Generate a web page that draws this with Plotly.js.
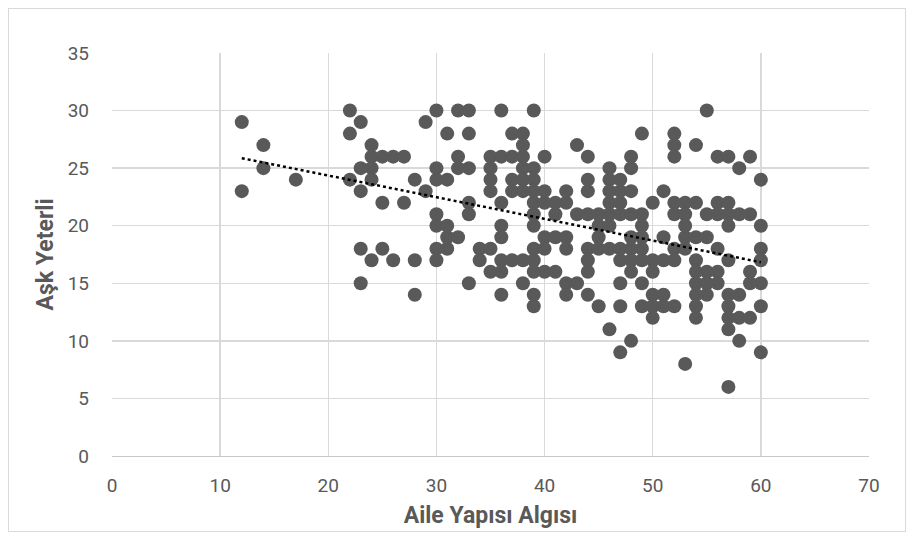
<!DOCTYPE html>
<html>
<head>
<meta charset="utf-8">
<script src="https://cdn.plot.ly/plotly-3.0.1.min.js"></script>
<style>
html,body{margin:0;padding:0;background:#fff;}
#wrap{position:relative;width:912px;height:539px;}
#chart{position:absolute;left:0;top:0;width:912px;height:539px;}
#frame{position:absolute;left:8px;top:8px;width:896px;height:522px;border:1px solid #d9d9d9;pointer-events:none;}
</style>
</head>
<body>
<div id="wrap"><div id="chart"></div><div id="frame"></div></div>
<script>
// Aile Yapısı Algısı (x) vs Aşk Yeterli (y), grouped by x value
const xValues = [12,14,17,22,23,24,25,26,27,28,29,30,31,32,33,34,35,36,37,38,39,40,41,42,43,44,45,46,47,48,49,50,51,52,53,54,55,56,57,58,59,60];
const yByX = [
  [29,23],
  [27,25],
  [24],
  [30,28,24],
  [29,25,23,18,15],
  [27,26,25,24,17],
  [26,22,18],
  [26,17],
  [26,22],
  [24,17,14],
  [29,23],
  [30,25,24,21,20,18,17],
  [28,24,20,19,18],
  [30,26,25,19],
  [30,28,25,22,21,15],
  [18,17],
  [26,25,24,23,18,16],
  [30,26,22,20,19,17,16,14],
  [28,26,24,23,17],
  [28,27,26,25,24,23,17,15],
  [30,25,24,23,22,21,20,18,17,16,14,13],
  [26,23,22,19,18,16],
  [22,21,19,16],
  [23,22,19,18,15,14],
  [27,21,15],
  [26,24,23,21,18,17,16,14],
  [21,20,19,18,13],
  [25,24,23,22,21,20,18,11],
  [24,23,22,21,18,17,15,13,9],
  [26,25,23,21,19,18,17,16,10],
  [28,21,20,19,18,17,15,13],
  [22,17,16,14,13,12],
  [23,19,17,14,13],
  [28,27,26,22,21,18,17,13],
  [22,21,20,19,18,8],
  [27,22,19,17,16,15,14,13,12],
  [30,21,19,16,15,14],
  [26,22,21,18,16,15],
  [26,22,21,20,17,14,13,12,11,6],
  [25,21,14,12,10],
  [26,21,16,15,12],
  [24,20,18,17,15,13,9]
];
const xTickLabels = ['0','10','20','30','40','50','60','70'];
const yTickLabels = ['0','5','10','15','20','25','30','35'];

const xs = [], ys = [];
xValues.forEach((xv, i) => yByX[i].forEach(yv => { xs.push(xv); ys.push(yv); }));

// linear least-squares trendline computed from the data
const n = xs.length;
const mx = xs.reduce((a,b)=>a+b,0)/n, my = ys.reduce((a,b)=>a+b,0)/n;
let sxy = 0, sxx = 0;
for (let i=0;i<n;i++){ sxy += (xs[i]-mx)*(ys[i]-my); sxx += (xs[i]-mx)*(xs[i]-mx); }
const slope = sxy/sxx, icpt = my - slope*mx;
const xmin = Math.min(...xs), xmax = Math.max(...xs);

const font = 'Roboto, "Liberation Sans", Arial, sans-serif';
const grey = '#595959';

Plotly.newPlot('chart', [
  {
    type:'scatter', mode:'markers', x:xs, y:ys,
    marker:{color:'#595959', size:14, line:{width:0}},
    hoverinfo:'x+y', showlegend:false
  },
  {
    type:'scatter', mode:'lines', x:[xmin,xmax], y:[icpt+slope*xmin, icpt+slope*xmax],
    line:{color:'#000000', width:2.5, dash:'dot'}, showlegend:false, hoverinfo:'skip'
  }
], {
  width:912, height:539,
  margin:{l:112, r:43, t:53, b:83},
  paper_bgcolor:'#ffffff', plot_bgcolor:'#ffffff',
  font:{family:font, color:grey, size:19},
  xaxis:{
    range:[0,70], tickmode:'array', tickvals:xTickLabels.map(Number), ticktext:xTickLabels,
    showgrid:true, gridcolor:'#d9d9d9', gridwidth:1.3, zeroline:false,
    showline:true, linecolor:'#c8c8c8', linewidth:1.3, ticks:'', ticklen:0,
    ticklabelstandoff:12,
    tickfont:{family:font, size:19, color:grey},
    title:{text:'Aile Yapısı Algısı', font:{family:font, size:23, color:grey, weight:'bold'}, standoff:10}
  },
  yaxis:{
    range:[0,35], tickmode:'array', tickvals:yTickLabels.map(Number), ticktext:yTickLabels,
    showgrid:true, gridcolor:'#d9d9d9', gridwidth:1.3, zeroline:false,
    showline:false, ticks:'', ticklen:0,
    ticklabelstandoff:22,
    tickfont:{family:font, size:19, color:grey},
    title:{text:'Aşk Yeterli', font:{family:font, size:23, color:grey, weight:'bold'}, standoff:7}
  }
}, {displayModeBar:false, staticPlot:true});
</script>
</body>
</html>
